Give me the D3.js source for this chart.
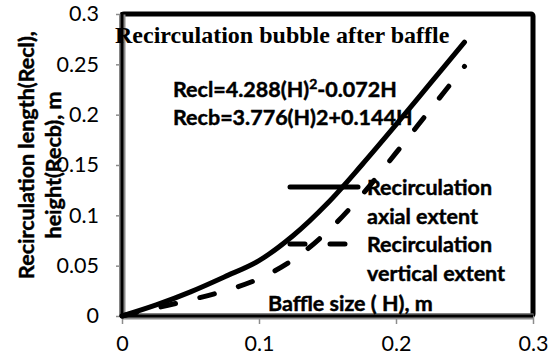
<!DOCTYPE html>
<html>
<head>
<meta charset="utf-8">
<script src="https://cdn.jsdelivr.net/npm/d3@7"></script>
<style>
  body { margin: 0; background: #fff; }
  svg { display: block; }
  .bold { font-family: Lato, "Open Sans", sans-serif; font-size: 21.5px; font-weight: 700; stroke: #000; stroke-width: 0.45px; }
</style>
</head>
<body>
<div id="chart"></div>
<script>
// data
var baffleSize = [0, 0.025, 0.05, 0.075, 0.1, 0.125, 0.15, 0.175, 0.2, 0.225, 0.25];
var reclValues = [0, 0.011, 0.024, 0.039, 0.055, 0.080, 0.112, 0.150, 0.190, 0.231, 0.272];
var recbValues = [0, 0.008, 0.016, 0.025, 0.037, 0.056, 0.084, 0.120, 0.162, 0.205, 0.248];
var xTicks = [0, 0.1, 0.2, 0.3];
var yTicks = [0, 0.05, 0.1, 0.15, 0.2, 0.25, 0.3];
var seriesNames = [['Recirculation', 'axial extent'], ['Recirculation', 'vertical extent']];

var W = 555, H = 361;
var plotL = 122, plotR = 533, plotT = 14, plotB = 316;
var sans = 'Lato, "Open Sans", sans-serif';

var svg = d3.select('#chart').append('svg')
  .attr('width', W).attr('height', H);

var x = d3.scaleLinear().domain([0, 0.3]).range([plotL, plotR]);
var y = d3.scaleLinear().domain([0, 0.3]).range([plotB, plotT]);

function fmt(d) { return d === 0 ? '0' : String(+d.toFixed(2)); }

// plot frame (thick black)
svg.append('rect')
  .attr('x', plotL).attr('y', plotT)
  .attr('width', plotR - plotL).attr('height', plotB - plotT)
  .attr('rx', 2)
  .attr('fill', 'none')
  .attr('stroke', '#000')
  .attr('stroke-width', 5);

// axes
var xAxis = svg.append('g')
  .attr('transform', 'translate(0,' + plotB + ')')
  .call(d3.axisBottom(x).tickValues(xTicks).tickFormat(fmt).tickSizeInner(8).tickSizeOuter(0).tickPadding(12));
var yAxis = svg.append('g')
  .attr('transform', 'translate(' + plotL + ',0)')
  .call(d3.axisLeft(y).tickValues(yTicks).tickFormat(fmt).tickSizeInner(6).tickSizeOuter(0).tickPadding(17));

[xAxis, yAxis].forEach(function(g) {
  g.select('.domain').attr('stroke', '#8c8c8c').attr('stroke-width', 6);
  g.selectAll('.tick line').attr('stroke', '#8c8c8c').attr('stroke-width', 1.5);
  g.selectAll('text')
    .attr('fill', '#000')
    .style('font-family', sans)
    .style('font-size', '21.5px');
});
// black core of the axis lines
svg.append('line')
  .attr('x1', plotL).attr('x2', plotL).attr('y1', plotT - 2).attr('y2', plotB)
  .attr('stroke', '#000').attr('stroke-width', 3);
svg.append('line')
  .attr('x1', plotL).attr('x2', plotR).attr('y1', plotB).attr('y2', plotB)
  .attr('stroke', '#000').attr('stroke-width', 3);

// y axis title (two lines)
svg.append('text')
  .attr('class', 'bold')
  .attr('transform', 'translate(34,155) rotate(-90)')
  .attr('text-anchor', 'middle')
  .text('Recirculation length(Recl),');
svg.append('text')
  .attr('class', 'bold')
  .attr('transform', 'translate(61,165) rotate(-90)')
  .attr('text-anchor', 'middle')
  .text('height(Recb), m');

// chart title
svg.append('text')
  .attr('x', 115).attr('y', 43)
  .style('font-family', '"Liberation Serif", "DejaVu Serif", serif')
  .style('font-size', '24px').style('font-weight', 700)
  .text('Recirculation bubble after baffle');

// equations
var eq1 = svg.append('text')
  .attr('class', 'bold')
  .attr('x', 173).attr('y', 97);
eq1.append('tspan').text('Recl=4.288(H)');
eq1.append('tspan').attr('dy', -8).style('font-size', '14px').text('2');
eq1.append('tspan').attr('dy', 8).text('-0.072H');

svg.append('text')
  .attr('class', 'bold')
  .attr('x', 173).attr('y', 125)
  .text('Recb=3.776(H)2+0.144H');

// x axis title
svg.append('text')
  .attr('class', 'bold')
  .attr('x', 268).attr('y', 311)
  .text('Baffle size ( H), m');

// legend
var legendY = [187, 244];
var dashes = [null, '15,25'];
seriesNames.forEach(function(lines, i) {
  svg.append('line')
    .attr('x1', 290).attr('x2', 358)
    .attr('y1', legendY[i]).attr('y2', legendY[i])
    .attr('stroke', '#000').attr('stroke-width', 5)
    .attr('stroke-linecap', 'round')
    .attr('stroke-dasharray', dashes[i]);
  lines.forEach(function(t, j) {
    svg.append('text')
      .attr('class', 'bold')
      .attr('x', 367).attr('y', legendY[i] + 8 + j * 29)
      .text(t);
  });
});

// series lines
var line = d3.line()
  .x(function(d) { return x(d[0]); })
  .y(function(d) { return y(d[1]); })
  .curve(d3.curveCatmullRom);

var series = [reclValues, recbValues];
series.forEach(function(vals, i) {
  svg.append('path')
    .datum(baffleSize.map(function(h, k) { return [h, vals[k]]; }))
    .attr('d', line)
    .attr('fill', 'none')
    .attr('stroke', '#000')
    .attr('stroke-width', 5)
    .attr('stroke-linecap', 'round')
    .attr('stroke-dasharray', dashes[i]);
});
</script>
</body>
</html>
